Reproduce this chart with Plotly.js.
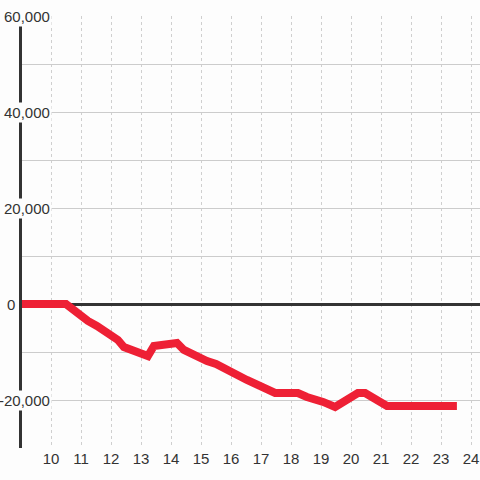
<!DOCTYPE html>
<html>
<head>
<meta charset="utf-8">
<script src="https://cdn.plot.ly/plotly-3.0.1.min.js"></script>
<style>html,body{margin:0;padding:0;background:#fdfdfd;}#chart{width:480px;height:480px;}</style>
</head>
<body>
<div id="chart"></div>
<script>
const xValues = [8.88, 10.5, 11.23, 11.53, 12.23, 12.43, 13.23, 13.43, 14.2, 14.43, 15.2, 15.5, 16.53, 17.2, 17.47, 18.23, 18.53, 19.07, 19.47, 20.23, 20.47, 21.2, 23.53];
const yValues = [0, 0, -3540, -4580, -7500, -8960, -10830, -8750, -8125, -9580, -11875, -12500, -15830, -17500, -18540, -18540, -19375, -20400, -21460, -18540, -18540, -21250, -21250];
const xTickVals = [10, 11, 12, 13, 14, 15, 16, 17, 18, 19, 20, 21, 22, 23, 24];
const xTickText = ['10', '11', '12', '13', '14', '15', '16', '17', '18', '19', '20', '21', '22', '23', '24'];
const yTickVals = [-20000, 0, 20000, 40000, 60000];
const yTickText = ['-20,000', '0', '20,000', '40,000', '60,000'];

const bg = '#fdfdfd';
const textColor = '#333333';
const fontFam = '"Liberation Sans", Arial, sans-serif';

const annotations = yTickVals.map((v, i) => ({
  xref: 'paper', yref: 'y',
  x: v === 0 ? -0.0115 : 0.0655,
  y: v,
  xanchor: 'right', yanchor: 'middle',
  text: yTickText[i],
  showarrow: false,
  bgcolor: v === 0 ? 'rgba(0,0,0,0)' : bg,
  borderpad: 1,
  font: {family: fontFam, size: 15, color: textColor}
}));

const trace = {
  x: xValues, y: yValues,
  type: 'scatter', mode: 'lines',
  line: {color: '#ee2035', width: 8},
  hoverinfo: 'skip',
  cliponaxis: false
};

const layout = {
  width: 480, height: 480,
  margin: {l: 22, r: 0, t: 16, b: 32},
  paper_bgcolor: bg, plot_bgcolor: bg,
  showlegend: false,
  xaxis: {
    range: [9.033, 24.3],
    tickvals: xTickVals, ticktext: xTickText,
    showgrid: true, gridcolor: '#cfcfcf', gridwidth: 1, griddash: 'dot',
    zeroline: false, showline: false, ticks: '',
    tickfont: {family: fontFam, size: 15, color: textColor}
  },
  yaxis: {
    range: [-30000, 60000],
    dtick: 10000, tick0: 0,
    showticklabels: false, ticks: '',
    showgrid: true, gridcolor: '#cccccc', gridwidth: 1,
    zeroline: true, zerolinecolor: '#333333', zerolinewidth: 3,
    showline: true, linecolor: '#333333', linewidth: 3
  },
  annotations: annotations
};

Plotly.newPlot('chart', [trace], layout, {staticPlot: true, displayModeBar: false});
</script>
</body>
</html>
